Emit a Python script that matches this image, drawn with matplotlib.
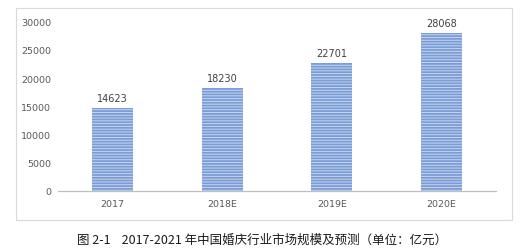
import matplotlib
matplotlib.use("Agg")
import matplotlib.pyplot as plt
from matplotlib.patches import Rectangle

categories = ["2017", "2018E", "2019E", "2020E"]
values = [14623, 18230, 22701, 28068]
yticks = [0, 5000, 10000, 15000, 20000, 25000, 30000]
caption = "图 2-1    2017-2021 年中国婚庆行业市场规模及预测（单位：亿元）"

plt.rcParams["font.family"] = ["Noto Sans CJK SC", "DejaVu Sans"]
plt.rcParams["hatch.linewidth"] = 0.7

W, H = 526, 251
fig = plt.figure(figsize=(W / 100, H / 100), dpi=100)
fig.patch.set_facecolor("white")

# outer chart frame
fig.add_artist(Rectangle((16 / W, 1 - 221 / H), (512 - 16) / W, (221 - 9) / H,
                         transform=fig.transFigure, fill=False,
                         edgecolor="#d9d9d9", linewidth=0.8))

ax = fig.add_axes([58 / W, 1 - 191.7 / H, 438 / W, 169 / H])
x = list(range(len(categories)))
ax.bar(x, values, width=0.375, color="#7b9dd6", edgecolor="none", linewidth=0)
# light horizontal stripes over the bars
ax.bar(x, values, width=0.375, fill=False, edgecolor="#c6d5f0",
       hatch="------", linewidth=0)

for xi, v in zip(x, values):
    ax.text(xi, v + 900, f"{v}", ha="center", va="bottom",
            fontsize=7, color="#404040", family="DejaVu Sans")

ax.set_xlim(-0.5, len(categories) - 0.5)
ax.set_ylim(0, 30000)
ax.set_yticks(yticks)
ax.set_yticklabels([str(t) for t in yticks], family="DejaVu Sans")
ax.set_xticks(x)
ax.set_xticklabels(categories, family="DejaVu Sans")
ax.tick_params(axis="both", length=0, labelsize=6.8, colors="#595959")
ax.tick_params(axis="y", pad=5)
ax.tick_params(axis="x", pad=6)
for s in ["top", "right", "left"]:
    ax.spines[s].set_visible(False)
ax.spines["bottom"].set_color("#bfbfbf")
ax.spines["bottom"].set_linewidth(0.9)

fig.text(262 / W, 1 - 240.5 / H, caption, ha="center", va="center",
         fontsize=9, color="#1a1a1a")

fig.savefig("out.png", dpi=100)
